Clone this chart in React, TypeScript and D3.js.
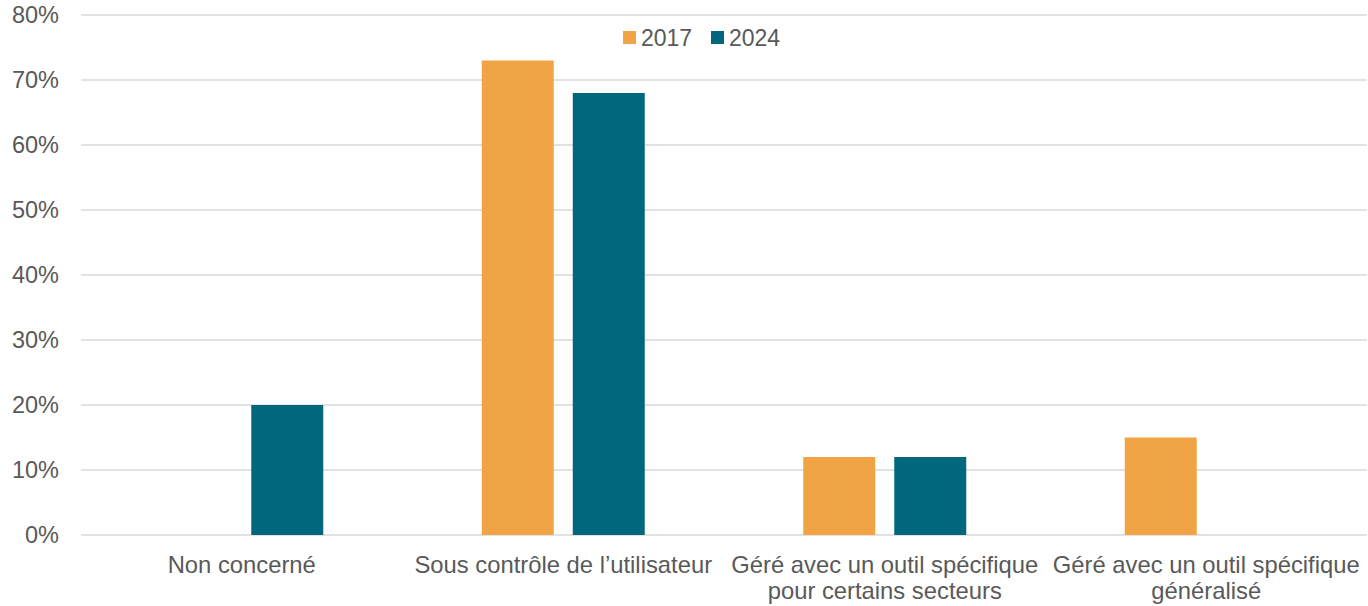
import React from "react";
import * as d3 from "d3";

const categories: string[][] = [
  ["Non concerné"],
  ["Sous contrôle de l’utilisateur"],
  ["Géré avec un outil spécifique", "pour certains secteurs"],
  ["Géré avec un outil spécifique", "généralisé"],
];
const seriesNames = ["2017", "2024"];
const values2017 = [0, 73, 12, 15];
const values2024 = [20, 68, 12, 0];
const yTicks = [0, 10, 20, 30, 40, 50, 60, 70, 80];
const colors = ["#F0A445", "#00677F"];

const W = 1368;
const H = 606;

export default function App() {
  const keys = categories.map((c) => c.join(" "));
  const x = d3.scaleBand<string>().domain(keys).range([81, 1367]).paddingInner(0).paddingOuter(0);
  const y = d3.scaleLinear().domain([0, 80]).range([535, 15]);
  const groupW = 163;
  const xs = d3
    .scaleBand<string>()
    .domain(seriesNames)
    .range([0, groupW])
    .paddingInner(0.209)
    .paddingOuter(0);
  const series = [values2017, values2024];
  const font = "'Liberation Sans', Arial, sans-serif";
  const textColor = "#595959";

  return (
    <svg
      width={W}
      height={H}
      style={{ position: "absolute", left: 0, top: 0, background: "#fff" }}
      fontFamily={font}
    >
      {yTicks.map((t) => (
        <g key={t}>
          <line x1={81} x2={1367} y1={y(t)} y2={y(t)} stroke="#D9D9D9" strokeWidth={1.5} />
          <text
            x={59}
            y={y(t)}
            dy="0.36em"
            textAnchor="end"
            fontSize={23.5}
            fill={textColor}
          >
            {t}%
          </text>
        </g>
      ))}
      {keys.map((k, i) => {
        const cx = (x(k) as number) + x.bandwidth() / 2;
        return (
          <g key={k}>
            {series.map((vals, si) =>
              vals[i] > 0 ? (
                <rect
                  key={si}
                  x={cx - groupW / 2 + (xs(seriesNames[si]) as number)}
                  y={y(vals[i])}
                  width={xs.bandwidth()}
                  height={y(0) - y(vals[i])}
                  fill={colors[si]}
                />
              ) : null
            )}
            {categories[i].map((line, li) => (
              <text
                key={li}
                x={cx}
                y={573 + li * 26}
                textAnchor="middle"
                fontSize={23.8}
                fill={textColor}
              >
                {line}
              </text>
            ))}
          </g>
        );
      })}
      {seriesNames.map((s, si) => {
        const lx = [623, 711][si];
        return (
          <g key={s}>
            <rect x={lx} y={31} width={13} height={13} fill={colors[si]} />
            <text x={lx + 18} y={46} fontSize={23} fill={textColor}>
              {s}
            </text>
          </g>
        );
      })}
    </svg>
  );
}
